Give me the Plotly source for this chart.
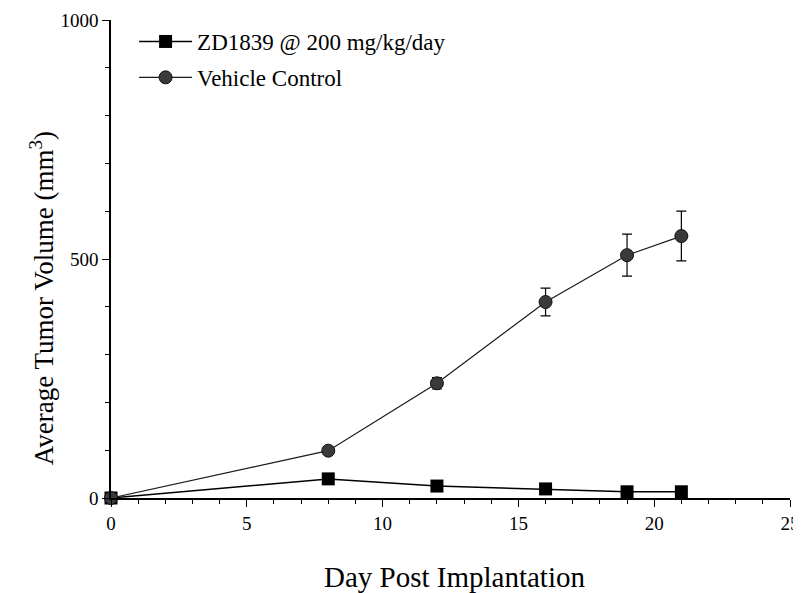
import plotly.graph_objects as go

days_zd = [0, 8, 12, 16, 19, 21]
vol_zd = [0, 40, 25, 19, 13, 13]

days_vc = [0, 8, 12, 16, 19, 21]
vol_vc = [0, 99, 240, 410, 508, 548]
err_vc = [0, 0, 12, 29, 44, 52]

x_ticks = [0, 5, 10, 15, 20, 25]
y_ticks = [0, 500, 1000]

FONT = "Liberation Serif, Times New Roman, serif"

fig = go.Figure()
fig.add_trace(go.Scatter(
    x=days_zd, y=vol_zd, mode="lines+markers", name="ZD1839 @ 200 mg/kg/day",
    legendgroup="a",
    line=dict(color="black", width=1.5),
    marker=dict(symbol="square", size=13, color="black"),
    cliponaxis=False,
))
fig.add_trace(go.Scatter(
    x=days_vc, y=vol_vc, mode="lines+markers", name="Vehicle Control",
    legendgroup="b",
    line=dict(color="#1a1a1a", width=1.2),
    marker=dict(symbol="circle", size=13, color="#3a3a3a", line=dict(color="#111111", width=1)),
    error_y=dict(type="data", array=err_vc, visible=True, color="black", thickness=1.2, width=5),
    cliponaxis=False,
))

fig.update_layout(
    width=793, height=585,
    margin=dict(l=103, r=11, t=12, b=95),
    paper_bgcolor="white", plot_bgcolor="white",
    font=dict(family=FONT, color="black"),
    showlegend=True,
    legend=dict(x=0.034, y=1.0, xanchor="left", yanchor="top",
                font=dict(size=23, family=FONT), bgcolor="rgba(0,0,0,0)",
                traceorder="grouped", tracegroupgap=3, itemwidth=53),
    xaxis=dict(
        range=[0, 25], tickvals=x_ticks, ticktext=[str(v) for v in x_ticks],
        automargin=False,
        showline=True, linecolor="black", linewidth=1.5, showgrid=False, zeroline=False,
        ticks="outside", ticklen=7, tickwidth=1.2, tickcolor="black",
        tickfont=dict(size=19, family=FONT),
        minor=dict(dtick=1, ticks="outside", ticklen=4, tickwidth=1, tickcolor="black"),
    ),
    yaxis=dict(
        range=[0, 1000], tickvals=y_ticks, ticktext=[str(v) for v in y_ticks],
        automargin=False,
        showline=True, linecolor="black", linewidth=1.5, showgrid=False, zeroline=False,
        ticks="outside", ticklen=7, tickwidth=1.2, tickcolor="black",
        tickfont=dict(size=19, family=FONT),
        minor=dict(dtick=100, ticks="outside", ticklen=4, tickwidth=1, tickcolor="black"),
    ),
    annotations=[
        dict(text="Day Post Implantation", xref="paper", yref="paper",
             x=0.5066, y=-0.165, xanchor="center", yanchor="middle", showarrow=False,
             font=dict(size=29, family=FONT, color="black")),
        dict(text="Average Tumor Volume (mm<sup>3</sup>)", xref="paper", yref="paper",
             x=-0.1016, y=0.418, xanchor="center", yanchor="middle", showarrow=False,
             textangle=-90, font=dict(size=27, family=FONT, color="black")),
    ],
)

fig.write_html("out.html")
